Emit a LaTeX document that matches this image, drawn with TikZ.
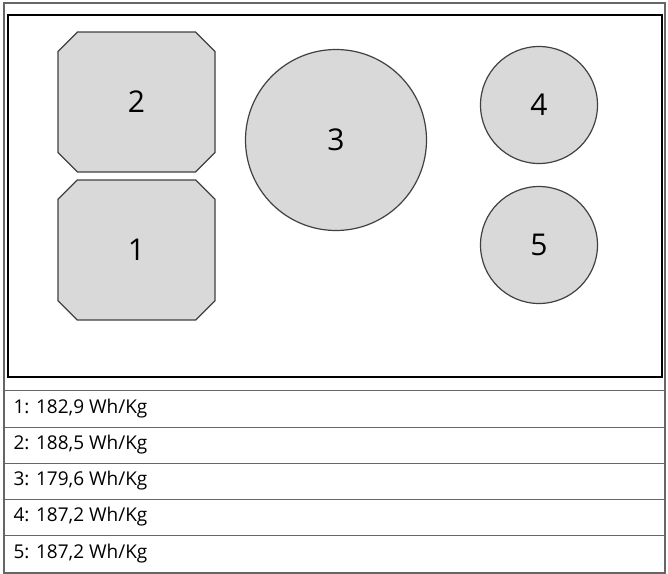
\documentclass[tikz,border=0pt]{standalone}
\usepackage{fontspec}
\setmainfont{Open Sans}
\usetikzlibrary{positioning,shapes.misc}
\begin{document}
\begin{tikzpicture}
  [
      x=1pt, y=-1pt,
      cell/.style={fill=gray!30, draw=black!75, line width=1.2pt, font=\fontsize{30}{36}\selectfont, inner sep=0pt},
      cell oct/.style={cell, chamfered rectangle, chamfered rectangle xsep=36pt, chamfered rectangle ysep=36pt, minimum width=157pt, minimum height=140pt},
      cell round/.style={cell, circle, minimum size=#1},
      row/.style={anchor=west, font=\fontsize{19}{22}\selectfont},
    ]
    \useasboundingbox (0,0) rectangle (668,573);
    \draw [black!60, line width=1.5pt] (4,3) rectangle (665,573);
    \draw [line width=1.6pt] (8,15) rectangle (662,377);

    \node (c2) [cell oct] at (136.5,102) {2};
    \node (c1) [cell oct] at (136.5,250) {1};
    \node (c3) [cell round=181pt] at (336,140) {3};
    \node (c4) [cell round=117pt] at (539,105) {4};
    \node (c5) [cell round=117pt] at (539,245) {5};

    \foreach \y in {390,427,463,499,535}
      \draw [black!60, line width=1pt] (4,\y) -- (665,\y);
    \node (r1) [row] at (10,409) {1: 182,9 Wh/Kg};
    \node (r2) [row] at (10,445) {2: 188,5 Wh/Kg};
    \node (r3) [row] at (10,481) {3: 179,6 Wh/Kg};
    \node (r4) [row] at (10,517) {4: 187,2 Wh/Kg};
    \node (r5) [row] at (10,554) {5: 187,2 Wh/Kg};
  \end{tikzpicture}
\end{document}
